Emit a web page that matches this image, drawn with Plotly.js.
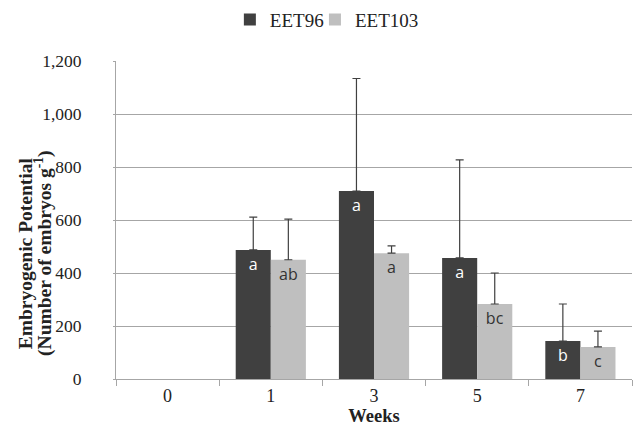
<!DOCTYPE html>
<html><head><meta charset="utf-8">
<script src="https://cdn.plot.ly/plotly-3.0.1.min.js"></script>
<style>body{margin:0;background:#fff}#c{width:635px;height:436px}</style>
</head><body><div id="c"></div>
<script>
const weeks = ['0','1','3','5','7'];
const eet96 = [null, 487, 709, 457, 143];
const eet96Err = [null, 124, 425, 370, 140];
const eet96Letters = ['', 'a', 'a', 'a', 'b'];
const eet103 = [null, 450, 475, 283, 121];
const eet103Err = [null, 153, 27, 117, 60];
const eet103Letters = ['', 'ab', 'a', 'bc', 'c'];
const zeros = [0, 0, 0, 0, 0];
const yTitleLines = ['<b>Embryogenic Potential</b>', '<b>(Number of embryos g<sup>-1</sup>)</b>'];

const common = {
  type: 'bar', x: weeks, textposition: 'inside', insidetextanchor: 'end',
  textangle: 0, hoverinfo: 'skip', cliponaxis: false
};
function errs(arr) {
  return {type: 'data', symmetric: false, array: arr, arrayminus: zeros, visible: true,
    color: '#404040', thickness: 1.2, width: 4};
}
const sans = "'Open Sans', 'Liberation Sans', sans-serif";
const serif = "'Liberation Serif', 'Times New Roman', serif";
const data = [
  Object.assign({}, common, {
    name: 'EET96', y: eet96, text: eet96Letters, legend: 'legend',
    marker: {color: '#404040', line: {width: 0}},
    textfont: {family: sans, size: 16, color: '#ffffff'},
    insidetextfont: {family: sans, size: 16, color: '#ffffff'},
    error_y: errs(eet96Err)
  }),
  Object.assign({}, common, {
    name: 'EET103', y: eet103, text: eet103Letters, legend: 'legend2',
    marker: {color: '#bfbfbf', line: {width: 0}},
    textfont: {family: sans, size: 16, color: '#333333'},
    insidetextfont: {family: sans, size: 16, color: '#333333'},
    error_y: errs(eet103Err)
  })
];
const legendBase = {orientation: 'h', xref: 'container', yref: 'container', xanchor: 'left', y: 0.955, yanchor: 'middle',
  font: {size: 19, family: serif, color: '#222'}, itemwidth: 30, bgcolor: 'rgba(0,0,0,0)'};
const layout = {
  width: 635, height: 436,
  margin: {l: 116, r: 3, t: 61, b: 57},
  paper_bgcolor: '#fff', plot_bgcolor: '#fff',
  barmode: 'group', bargap: 0.32, bargroupgap: 0,
  font: {family: serif, color: '#222'},
  showlegend: true,
  legend: Object.assign({}, legendBase, {x: 0.362}),
  legend2: Object.assign({}, legendBase, {x: 0.496}),
  xaxis: {
    type: 'category', showline: true, linecolor: '#a6a6a6', linewidth: 1,
    ticks: 'outside', tickson: 'boundaries', ticklen: 6, tickcolor: '#a6a6a6',
    tickfont: {size: 18, family: serif, color: '#222'},
    title: {text: '<b>Weeks</b>', font: {size: 18.5, family: serif, color: '#222'}, standoff: 4},
    showgrid: false, fixedrange: true
  },
  yaxis: {
    range: [0, 1200], dtick: 200, tickformat: ',d',
    showline: true, linecolor: '#a6a6a6', linewidth: 1,
    showgrid: true, gridcolor: '#a6a6a6', gridwidth: 1, zeroline: false,
    ticks: 'outside', ticklen: 2, tickcolor: '#a6a6a6', ticklabelstandoff: 28,
    tickfont: {size: 17.5, family: serif, color: '#222'},
    fixedrange: true
  },
  annotations: [
    {text: yTitleLines[0], xref: 'paper', yref: 'paper', x: -0.1765, y: 0.395, xanchor: 'center', yanchor: 'middle',
      textangle: -90, showarrow: false, font: {size: 19.5, family: serif, color: '#222'}},
    {text: yTitleLines[1], xref: 'paper', yref: 'paper', x: -0.1405, y: 0.395, xanchor: 'center', yanchor: 'middle',
      textangle: -90, showarrow: false, font: {size: 19.5, family: serif, color: '#222'}}
  ]
};
Plotly.newPlot('c', data, layout, {displayModeBar: false, staticPlot: true});
</script></body></html>
